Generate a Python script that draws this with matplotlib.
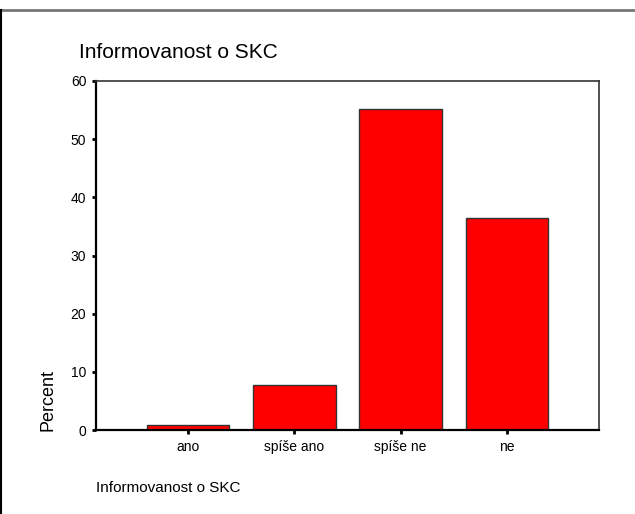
import matplotlib
matplotlib.use("Agg")
import matplotlib.pyplot as plt
from matplotlib.lines import Line2D

plt.rcParams["font.family"] = ["Liberation Sans", "DejaVu Sans"]

# --- Data ---
categories = ["ano", "spíše ano", "spíše ne", "ne"]
percent = [0.9, 7.8, 55.2, 36.4]
y_ticks = [0, 10, 20, 30, 40, 50, 60]

W, H = 635, 514
fig = plt.figure(figsize=(W / 100, H / 100), dpi=100)

# plot area in pixels: x 96..599, y 81..430
ax = fig.add_axes([96 / W, (H - 430) / H, (599 - 96) / W, (430 - 81) / H])

pos = list(range(1, len(categories) + 1))
ax.bar(pos, percent, width=0.775, color="#ff0000", edgecolor="#333333", linewidth=1.0)

ax.set_xlim(0.13, 4.87)
ax.set_ylim(0, 60)
ax.set_xticks(pos)
ax.set_xticklabels(categories, fontsize=10)
ax.set_yticks(y_ticks)
ax.set_yticklabels([str(t) for t in y_ticks], fontsize=10)
ax.tick_params(axis="both", direction="out", length=3, width=2, color="black", pad=4)

for s in ["left", "bottom"]:
    ax.spines[s].set_linewidth(1.6)
    ax.spines[s].set_color("black")
for s in ["top", "right"]:
    ax.spines[s].set_linewidth(1.2)
    ax.spines[s].set_color("#333333")

# texts
fig.text(79 / W, 1 - 52 / H, "Informovanost o SKC", fontsize=15, ha="left", va="center")
fig.text(96 / W, 1 - 488 / H, "Informovanost o SKC", fontsize=11, ha="left", va="center")
fig.text(48 / W, 1 - 400 / H, "Percent", fontsize=13, rotation=90, ha="center", va="center")

# frame lines
fig.add_artist(Line2D([0, 1], [1 - 9.5 / H, 1 - 9.5 / H], color="#777777", lw=2, transform=fig.transFigure))
fig.add_artist(Line2D([0.5 / W, 0.5 / W], [0, 1 - 9.5 / H], color="black", lw=1.5, transform=fig.transFigure))

fig.savefig("out.png", dpi=100)
